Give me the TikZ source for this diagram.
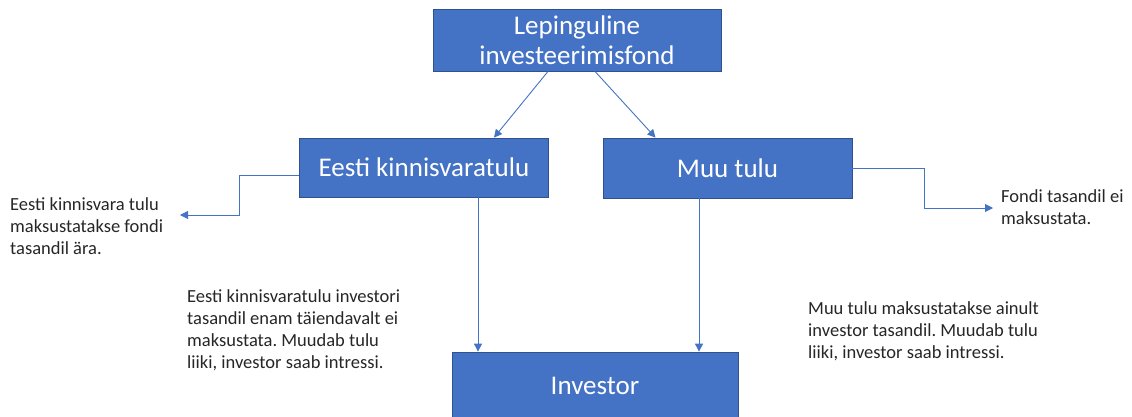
\documentclass[tikz,border=0pt]{standalone}
\usepackage{fontspec}
\setmainfont{Carlito}
\frenchspacing
\usetikzlibrary{arrows.meta}
\definecolor{boxfill}{HTML}{4472C4}
\definecolor{boxline}{HTML}{2F528F}
\definecolor{conn}{HTML}{4472C4}
\tikzset{
  bluebox/.style={draw=boxline, line width=0.8pt, fill=boxfill, text=white, inner sep=0pt,
    font=\fontsize{27}{30}\selectfont, align=center},
  note/.style={inner sep=0pt, align=left, anchor=west, text=black!85,
    font=\fontsize{18.5}{22}\selectfont},
  conn/.style={draw=conn, line width=0.9pt, -{Triangle[length=8pt,width=8pt]}},
}
\begin{document}
\begin{tikzpicture}[x=1pt,y=-1pt]
\useasboundingbox (0,0) rectangle (1132,416);
\node[bluebox, minimum width=288pt, minimum height=62pt] (top) at (577,40) {Lepinguline\\investeerimisfond};
\node[bluebox, minimum width=249pt, minimum height=59pt] (eesti) at (424,167.5) {Eesti kinnisvaratulu};
\node[bluebox, minimum width=249pt, minimum height=60pt] (muu) at (727.5,168) {Muu tulu};
\node[bluebox, minimum width=286pt, minimum height=68pt, text depth=0pt] (inv) at (595,386) {Investor};

\node[note] (n1) at (10,226) {Eesti kinnisvara tulu\\maksustatakse fondi\\tasandil ära.};
\node[note] (n2) at (1001,207) {Fondi tasandil ei\\maksustata.};
\node[note] (n3) at (187,330.5) {Eesti kinnisvaratulu investori\\tasandil enam täiendavalt ei\\maksustata. Muudab tulu\\liiki, investor saab intressi.};
\node[note] (n4) at (808,331) {Muu tulu maksustatakse ainult\\investor tasandil. Muudab tulu\\liiki, investor saab intressi.};

\coordinate (c1) at (180,215);
\coordinate (c2) at (993,208);

\draw[conn] ([xshift=-29pt]top.south) -- ([xshift=70pt]eesti.north);
\draw[conn] ([xshift=18pt]top.south) -- ([xshift=-72pt]muu.north);
\draw[conn] ([yshift=-7.5pt]eesti.west) -- ++(-60,0) |- (c1);
\draw[conn] (muu.east) -- ++(72,0) |- (c2);
\draw[conn] ([xshift=54pt]eesti.south) -- ([xshift=54pt]eesti.south |- inv.north);
\draw[conn] ([xshift=-28.5pt]muu.south) -- ([xshift=-28.5pt]muu.south |- inv.north);
\end{tikzpicture}
\end{document}
